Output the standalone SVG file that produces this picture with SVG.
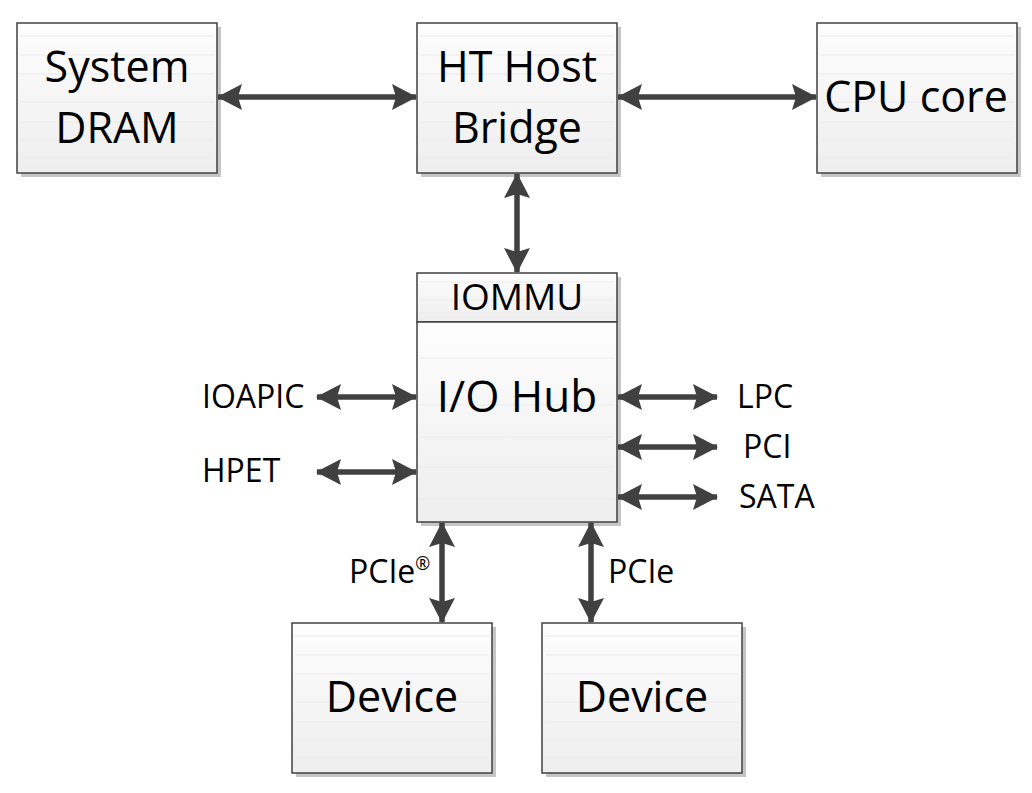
<svg xmlns="http://www.w3.org/2000/svg" width="1032" height="793" viewBox="0 0 1032 793">
<style>
.box{fill:url(#g);stroke:#404040;stroke-width:1.5}
.sh{fill:#c6c6c6}
.st{stroke:#ebebeb;stroke-width:1}
.t{font-family:"Open Sans","Liberation Sans",sans-serif;fill:#000;text-anchor:middle}
.big{font-size:43px}
.sm{font-size:32px}
.lbl{font-family:"Open Sans","Liberation Sans",sans-serif;fill:#000;font-size:32px}
.a{stroke:#404040;stroke-width:5.5;fill:none;marker-start:url(#ah);marker-end:url(#ah)}
</style>
<defs>
<linearGradient id="g" x1="0" y1="0" x2="0" y2="1">
<stop offset="0" stop-color="#fdfdfd"/>
<stop offset="1" stop-color="#eeeeee"/>
</linearGradient>
<marker id="ah" viewBox="0 0 25 26" refX="24" refY="13" markerWidth="25" markerHeight="26" markerUnits="userSpaceOnUse" orient="auto-start-reverse">
<path d="M0,0 L25,13 L0,26 L4,13 Z" fill="#404040"/>
</marker>
</defs>
<rect width="1032" height="793" fill="#fff"/>

<g id="system-dram">
<rect class="sh" x="21" y="27" width="200" height="150"/>
<rect class="box" x="17" y="23" width="200" height="150"/>
<g class="st"><line x1="20" y1="36" x2="214" y2="36"/><line x1="20" y1="55" x2="214" y2="55"/><line x1="20" y1="74" x2="214" y2="74"/><line x1="20" y1="102" x2="214" y2="102"/><line x1="20" y1="122" x2="214" y2="122"/><line x1="20" y1="140" x2="214" y2="140"/><line x1="20" y1="158" x2="214" y2="158"/></g>
<text class="t big" x="117" y="82">System</text>
<text class="t big" x="117" y="143">DRAM</text>
</g>

<g id="ht-host-bridge">
<rect class="sh" x="421" y="27" width="200" height="150"/>
<rect class="box" x="417" y="23" width="200" height="150"/>
<g class="st"><line x1="420" y1="36" x2="614" y2="36"/><line x1="420" y1="55" x2="614" y2="55"/><line x1="420" y1="74" x2="614" y2="74"/><line x1="420" y1="102" x2="614" y2="102"/><line x1="420" y1="122" x2="614" y2="122"/><line x1="420" y1="140" x2="614" y2="140"/><line x1="420" y1="158" x2="614" y2="158"/></g>
<text class="t big" x="517" y="82">HT Host</text>
<text class="t big" x="517" y="143">Bridge</text>
</g>

<g id="cpu-core">
<rect class="sh" x="821" y="27" width="200" height="150"/>
<rect class="box" x="817" y="23" width="200" height="150"/>
<g class="st"><line x1="820" y1="36" x2="1014" y2="36"/><line x1="820" y1="55" x2="1014" y2="55"/><line x1="820" y1="74" x2="1014" y2="74"/><line x1="820" y1="102" x2="1014" y2="102"/><line x1="820" y1="122" x2="1014" y2="122"/><line x1="820" y1="140" x2="1014" y2="140"/><line x1="820" y1="158" x2="1014" y2="158"/></g>
<text class="t big" x="916" y="112">CPU core</text>
</g>

<g id="iommu">
<rect class="sh" x="421" y="277" width="200" height="249"/>
<rect class="box" x="417" y="273" width="200" height="49"/>
<g class="st"><line x1="420" y1="282" x2="614" y2="282"/><line x1="420" y1="300" x2="614" y2="300"/><line x1="420" y1="313" x2="614" y2="313"/></g>
<text class="t" font-size="37" x="517" y="310">IOMMU</text>
</g>

<g id="io-hub">
<rect class="box" x="417" y="322" width="200" height="200"/>
<g class="st"><line x1="420" y1="358" x2="614" y2="358"/><line x1="420" y1="405" x2="614" y2="405"/><line x1="420" y1="437" x2="614" y2="437"/><line x1="420" y1="467" x2="614" y2="467"/><line x1="420" y1="499" x2="614" y2="499"/></g>
<text class="t" font-size="44" x="517" y="412">I/O Hub</text>
</g>

<g id="device-1">
<rect class="sh" x="296" y="627" width="200" height="150"/>
<rect class="box" x="292" y="623" width="200" height="150"/>
<g class="st"><line x1="295" y1="636" x2="489" y2="636"/><line x1="295" y1="655" x2="489" y2="655"/><line x1="295" y1="674" x2="489" y2="674"/><line x1="295" y1="702" x2="489" y2="702"/><line x1="295" y1="722" x2="489" y2="722"/><line x1="295" y1="740" x2="489" y2="740"/><line x1="295" y1="758" x2="489" y2="758"/></g>
<text class="t" font-size="43" x="392" y="712">Device</text>
</g>

<g id="device-2">
<rect class="sh" x="546" y="627" width="200" height="150"/>
<rect class="box" x="542" y="623" width="200" height="150"/>
<g class="st"><line x1="545" y1="636" x2="739" y2="636"/><line x1="545" y1="655" x2="739" y2="655"/><line x1="545" y1="674" x2="739" y2="674"/><line x1="545" y1="702" x2="739" y2="702"/><line x1="545" y1="722" x2="739" y2="722"/><line x1="545" y1="740" x2="739" y2="740"/><line x1="545" y1="758" x2="739" y2="758"/></g>
<text class="t" font-size="43" x="642" y="712">Device</text>
</g>

<g id="ioapic"><text class="lbl" x="202" y="408">IOAPIC</text></g>
<g id="hpet"><text class="lbl" x="202" y="482">HPET</text></g>
<g id="lpc"><text class="lbl" x="737" y="408">LPC</text></g>
<g id="pci"><text class="lbl" x="743" y="458">PCI</text></g>
<g id="sata"><text class="lbl" x="739" y="508">SATA</text></g>

<g id="connectors">
<line class="a" x1="218" y1="97" x2="416" y2="97"/>
<line class="a" x1="618" y1="97" x2="816" y2="97"/>
<line class="a" x1="517" y1="174" x2="517" y2="272"/>
<line class="a" x1="317" y1="397" x2="416" y2="397"/>
<line class="a" x1="317" y1="472" x2="416" y2="472"/>
<line class="a" x1="618" y1="397" x2="717" y2="397"/>
<line class="a" x1="618" y1="447" x2="717" y2="447"/>
<line class="a" x1="618" y1="497" x2="717" y2="497"/>
<line class="a" x1="442" y1="523" x2="442" y2="622"/>
<line class="a" x1="591" y1="523" x2="591" y2="622"/>
<text class="lbl" x="349" y="583">PCIe<tspan font-size="18" dy="-13">®</tspan></text>
<text class="lbl" x="608" y="583">PCIe</text>
</g>
</svg>
